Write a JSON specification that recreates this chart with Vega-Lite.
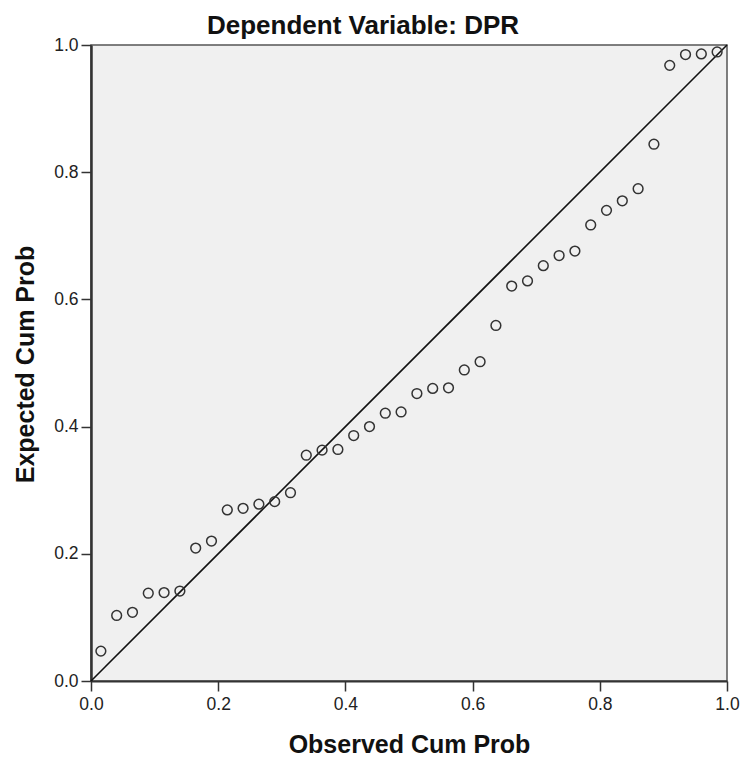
{
  "$schema": "https://vega.github.io/schema/vega-lite/v6.json",
  "width": 636,
  "height": 636,
  "autosize": {"type": "none"},
  "padding": {"left": 91, "top": 45, "right": 17, "bottom": 80},
  "background": "white",
  "title": {
    "text": "Dependent Variable: DPR",
    "font": "Liberation Sans",
    "fontSize": 26,
    "fontWeight": "bold",
    "color": "#111111",
    "anchor": "middle",
    "dx": -46,
    "dy": 33,
    "offset": 4,
    "baseline": "bottom"
  },
  "config": {
    "view": {"fill": "#F0F0F0", "stroke": "#555555", "strokeWidth": 1.5}
  },
  "datasets": {
    "points": [
      {"x": 0.01553, "y": 0.047},
      {"x": 0.04037, "y": 0.103},
      {"x": 0.06522, "y": 0.108},
      {"x": 0.09006, "y": 0.138},
      {"x": 0.11491, "y": 0.139},
      {"x": 0.13975, "y": 0.1415},
      {"x": 0.1646, "y": 0.209},
      {"x": 0.18944, "y": 0.22},
      {"x": 0.21429, "y": 0.269},
      {"x": 0.23913, "y": 0.2715},
      {"x": 0.26398, "y": 0.278},
      {"x": 0.28882, "y": 0.282},
      {"x": 0.31366, "y": 0.296},
      {"x": 0.33851, "y": 0.355},
      {"x": 0.36335, "y": 0.363},
      {"x": 0.3882, "y": 0.364},
      {"x": 0.41304, "y": 0.386},
      {"x": 0.43789, "y": 0.4},
      {"x": 0.46273, "y": 0.421},
      {"x": 0.48758, "y": 0.423},
      {"x": 0.51242, "y": 0.452},
      {"x": 0.53727, "y": 0.46},
      {"x": 0.56211, "y": 0.461},
      {"x": 0.58696, "y": 0.489},
      {"x": 0.6118, "y": 0.502},
      {"x": 0.63665, "y": 0.559},
      {"x": 0.66149, "y": 0.621},
      {"x": 0.68634, "y": 0.629},
      {"x": 0.71118, "y": 0.653},
      {"x": 0.73602, "y": 0.669},
      {"x": 0.76087, "y": 0.676},
      {"x": 0.78571, "y": 0.717},
      {"x": 0.81056, "y": 0.74},
      {"x": 0.8354, "y": 0.755},
      {"x": 0.86025, "y": 0.774},
      {"x": 0.88509, "y": 0.844},
      {"x": 0.90994, "y": 0.968},
      {"x": 0.93478, "y": 0.985},
      {"x": 0.95963, "y": 0.986},
      {"x": 0.98447, "y": 0.989}
    ],
    "diag": [
      {"x": 0, "y": 0},
      {"x": 1, "y": 1}
    ]
  },
  "encoding": {
    "x": {
      "field": "x",
      "type": "quantitative",
      "scale": {"domain": [0, 1], "nice": false, "zero": false},
      "axis": {
        "title": "Observed Cum Prob",
        "values": [0, 0.2, 0.4, 0.6, 0.8, 1],
        "format": ".1f",
        "grid": false,
        "tickSize": 10,
        "tickWidth": 1.5,
        "tickColor": "#333333",
        "domainColor": "#333333",
        "domainWidth": 2,
        "labelPadding": 4,
        "labelFont": "Liberation Sans",
        "labelFontSize": 17.5,
        "labelColor": "#222222",
        "labelFlush": false,
        "titleFont": "Liberation Sans",
        "titleFontSize": 25,
        "titleFontWeight": "bold",
        "titleColor": "#111111",
        "titleX": 318,
        "titleY": 71,
        "titleAlign": "center",
        "titleBaseline": "alphabetic"
      }
    },
    "y": {
      "field": "y",
      "type": "quantitative",
      "scale": {"domain": [0, 1], "nice": false, "zero": false},
      "axis": {
        "title": "Expected Cum Prob",
        "values": [0, 0.2, 0.4, 0.6, 0.8, 1],
        "format": ".1f",
        "grid": false,
        "tickSize": 10,
        "tickWidth": 1.5,
        "tickColor": "#333333",
        "domainColor": "#333333",
        "domainWidth": 2.5,
        "labelPadding": 3,
        "labelFont": "Liberation Sans",
        "labelFontSize": 17.5,
        "labelColor": "#222222",
        "labelFlush": false,
        "titleFont": "Liberation Sans",
        "titleFontSize": 25,
        "titleFontWeight": "bold",
        "titleColor": "#111111",
        "titleAngle": -90,
        "titleX": -57.5,
        "titleY": 319,
        "titleAlign": "center",
        "titleBaseline": "alphabetic"
      }
    }
  },
  "layer": [
    {
      "data": {"name": "diag"},
      "mark": {"type": "line", "color": "#111111", "strokeWidth": 1.6}
    },
    {
      "data": {"name": "points"},
      "mark": {"type": "point", "shape": "circle", "filled": false, "size": 95, "color": "#333333", "strokeWidth": 1.5, "opacity": 1}
    }
  ]
}
